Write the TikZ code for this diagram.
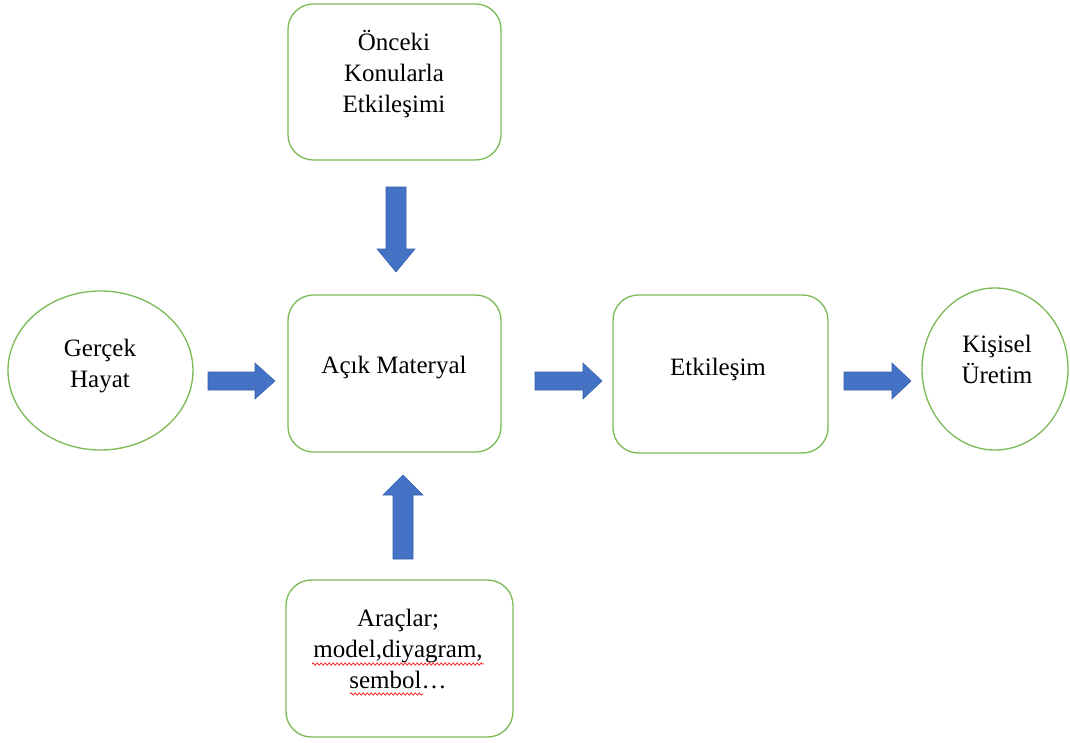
\documentclass[tikz,border=0pt]{standalone}
\usepackage{fontspec}
\setmainfont{Liberation Serif}
\usetikzlibrary{shapes.geometric,decorations.pathmorphing}
\definecolor{boxgreen}{RGB}{125,186,88}
\definecolor{arrowblue}{RGB}{68,114,196}
\definecolor{arrowedge}{RGB}{55,96,170}
\tikzset{
  box/.style={draw=boxgreen, line width=1pt, rounded corners=19pt, fill=white, inner sep=0pt},
  oval/.style={draw=boxgreen, line width=1pt, ellipse, fill=white, inner sep=0pt},
  label text/.style={font=\fontsize{18.75}{23.25}\selectfont, align=center, inner sep=0pt, anchor=base},
  blockarrow/.style={fill=arrowblue, draw=arrowedge, line width=0.4pt},
  squiggle/.style={draw=red, line width=0.5pt, decorate, decoration={snake, amplitude=0.8pt, segment length=3pt}}
}
\begin{document}
\begin{tikzpicture}[x=0.75pt, y=-0.75pt]
\useasboundingbox (0,0) rectangle (1070,742);
% shapes
\node[box, minimum width=159.75pt, minimum height=117pt] (onceki) at (394.5,82) {};
\node[box, minimum width=159.75pt, minimum height=117.75pt] (acik) at (394.5,373.5) {};
\node[box, minimum width=161.25pt, minimum height=118.5pt] (etk) at (720.5,374) {};
\node[box, minimum width=170.25pt, minimum height=117.75pt] (arac) at (399.5,658.5) {};
\node[oval, minimum width=138.75pt, minimum height=119.25pt] (gercek) at (100.5,370.5) {};
\node[oval, minimum width=109.5pt, minimum height=121.5pt] (kisisel) at (995,369) {};
% texts (base anchor = baseline of the last line)
\node[label text] (t-onceki) at (394,112) {Önceki\\Konularla\\Etkileşimi};
\node[label text] (t-acik) at (394,373) {Açık Materyal};
\node[label text] (t-etk) at (718,375) {Etkileşim};
\node[label text] (t-gercek) at (100,387) {Gerçek\\Hayat};
\node[label text] (t-kisisel) at (997,383) {Kişisel\\Üretim};
\node[label text] (t-arac) at (398,688) {Araçlar;\\model,diyagram,\\sembol…};
% spelling squiggles
\draw[squiggle] (312,664) -- (484,664);
\draw[squiggle] (350,694) -- (423,694);
% block arrows
\draw[blockarrow] (386,187) -- (406,187) -- (406,249) -- (415,249) -- (396,272) -- (377,249) -- (386,249) -- cycle;
\draw[blockarrow] (393,559) -- (413,559) -- (413,495) -- (423,495) -- (403,475) -- (383,495) -- (393,495) -- cycle;
\draw[blockarrow] (208,372) -- (255,372) -- (255,363) -- (275,381) -- (255,399) -- (255,390) -- (208,390) -- cycle;
\draw[blockarrow] (535,372) -- (583,372) -- (583,363) -- (602,381) -- (583,399) -- (583,390) -- (535,390) -- cycle;
\draw[blockarrow] (844,372) -- (892,372) -- (892,363) -- (911,381) -- (892,399) -- (892,390) -- (844,390) -- cycle;
\end{tikzpicture}
\end{document}
